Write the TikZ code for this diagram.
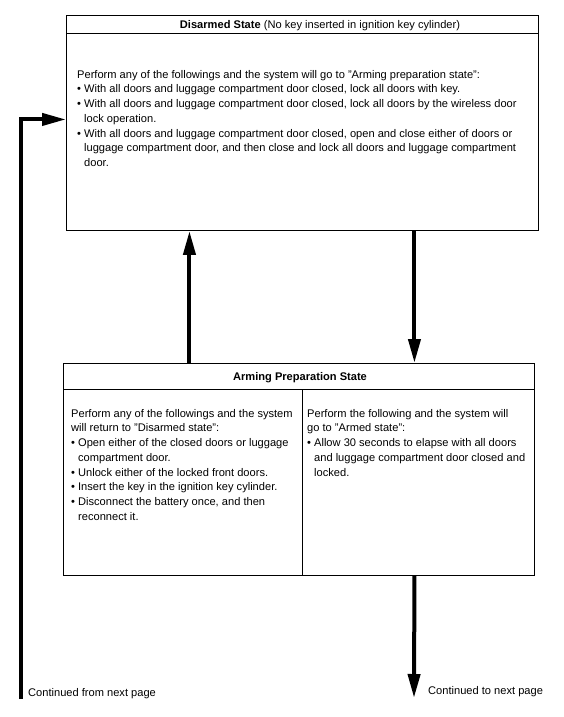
\documentclass[tikz,border=0pt]{standalone}
\usepackage{fontspec}
\setmainfont{Liberation Sans}
\usetikzlibrary{arrows.meta,positioning}
\newcommand{\bul}{\textbullet\ }
\newcommand{\cnt}{\hphantom{\textbullet\ }}
\tikzset{
  statebox/.style={draw, line width=0.9pt, inner sep=0pt, anchor=north west},
  titletext/.style={inner sep=0pt, font=\fontsize{11.1}{13}\selectfont},
  bodytext/.style={anchor=north west, align=left, inner sep=0pt, font=\fontsize{11.1}{14.7}\selectfont},
  pagetext/.style={anchor=west, inner sep=0pt, font=\fontsize{11.1}{13}\selectfont},
  flow/.style={line width=4pt, -{Triangle[length=24pt,width=12pt]}},
}
\begin{document}
\begin{tikzpicture}[x=1pt,y=-1pt]
	\useasboundingbox (0,0) rectangle (564,717);
	
	% Disarmed state
	\node[statebox, minimum width=472pt, minimum height=215pt] (disarmed) at (66,15) {};
	\draw[line width=0.9pt] ([yshift=-18pt]disarmed.north west) -- ([yshift=-18pt]disarmed.north east);
	\node[titletext] (disarmedtitle) at (320,26) {\textbf{Disarmed State} (No key inserted in ignition key cylinder)};
	\node[bodytext] (disarmedtext) at (77,70) {Perform any of the followings and the system will go to "Arming preparation state":\\
		\bul With all doors and luggage compartment door closed, lock all doors with key.\\
		\bul With all doors and luggage compartment door closed, lock all doors by the wireless door\\
		\cnt lock operation.\\
		\bul With all doors and luggage compartment door closed, open and close either of doors or\\
		\cnt luggage compartment door, and then close and lock all doors and luggage compartment\\
		\cnt door.};
	
	% Arming preparation state
	\node[statebox, minimum width=471pt, minimum height=212pt] (arming) at (63,363) {};
	\draw[line width=0.9pt] ([yshift=-26pt]arming.north west) -- ([yshift=-26pt]arming.north east);
	\draw[line width=0.9pt] ([xshift=239pt,yshift=-26pt]arming.north west) -- ([xshift=239pt]arming.south west);
	\node[titletext] (armingtitle) at (300,378) {\textbf{Arming Preparation State}};
	\node[bodytext] (returntext) at (71,409) {Perform any of the followings and the system\\
		will return to "Disarmed state":\\
		\bul Open either of the closed doors or luggage\\
		\cnt compartment door.\\
		\bul Unlock either of the locked front doors.\\
		\bul Insert the key in the ignition key cylinder.\\
		\bul Disconnect the battery once, and then\\
		\cnt reconnect it.};
	\node[bodytext] (armedtext) at (307,409) {Perform the following and the system will\\
		go to "Armed state":\\
		\bul Allow 30 seconds to elapse with all doors\\
		\cnt and luggage compartment door closed and\\
		\cnt locked.};
	
	% Connectors
	\coordinate (fromprev) at (21,699);
	\coordinate (tonext) at (414,698);
	\draw[flow] ([xshift=-109.5pt]arming.north) -- ([xshift=-113pt]disarmed.south);
	\draw[flow] ([xshift=112pt]disarmed.south) -- ([xshift=115.5pt]arming.north);
	\draw[flow] ([xshift=115.5pt]arming.south) -- (tonext);
	\draw[flow] (fromprev) |- ([yshift=3.5pt]disarmed.west);
	\node[pagetext] (fromtext) at (28,694) {Continued from next page};
	\node[pagetext] (totext) at (428,692) {Continued to next page};
\end{tikzpicture}
\end{document}
